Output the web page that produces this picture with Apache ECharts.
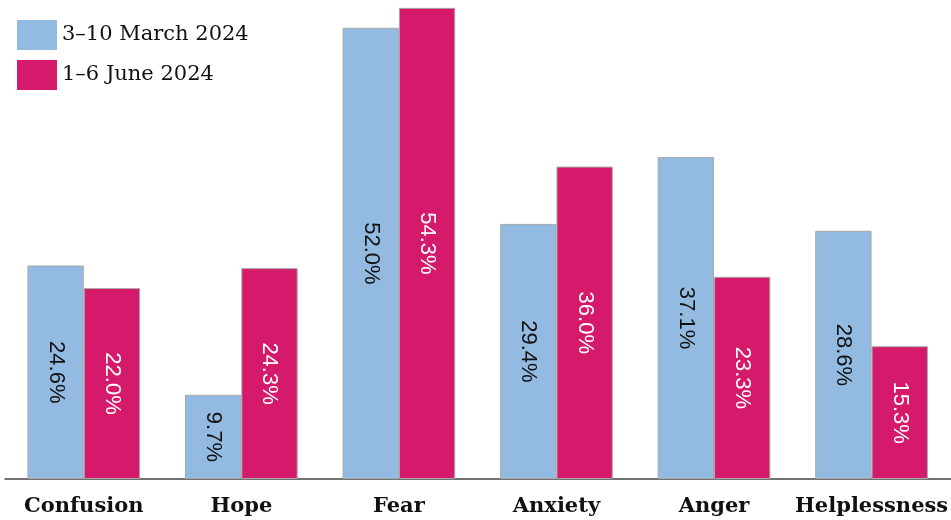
<!DOCTYPE html>
<html><head><meta charset="utf-8">
<script src="https://cdn.jsdelivr.net/npm/echarts@6/dist/echarts.min.js"></script>
<style>html,body{margin:0;padding:0;background:#fff}#c{width:951px;height:520px}</style>
</head><body><div id="c"></div>
<script>
const categories = ["Confusion", "Hope", "Fear", "Anxiety", "Anger", "Helplessness"];
const march = [24.6, 9.7, 52.0, 29.4, 37.1, 28.6];
const june = [22.0, 24.3, 54.3, 36.0, 23.3, 15.3];
const seriesNames = ["3–10 March 2024", "1–6 June 2024"];

const chart = echarts.init(document.getElementById('c'));
const labelCfg = (color) => ({
  show: true, position: 'inside', rotate: -90,
  formatter: p => p.value.toFixed(1) + '%',
  color: color, fontFamily: 'Liberation Sans, Arial, sans-serif', fontSize: 22
});
chart.setOption({
  animation: false,
  grid: { left: 5, right: -1, top: 0, bottom: 41, containLabel: false },
  legend: {
    orient: 'vertical', left: 17, top: 20, padding: 0, itemWidth: 40, itemHeight: 30, itemGap: 10,
    icon: 'rect', itemStyle: { borderWidth: 0 },
    textStyle: { fontFamily: 'DejaVu Serif, serif', fontSize: 21, color: '#111' },
    data: seriesNames
  },
  xAxis: {
    type: 'category', data: categories,
    axisLine: { show: true, lineStyle: { color: '#444', width: 1.5 } },
    axisTick: { show: false },
    axisLabel: { fontFamily: 'DejaVu Serif, serif', fontWeight: 'bold', fontSize: 21, color: '#111', margin: 17, interval: 0 }
  },
  yAxis: { type: 'value', min: 0, max: 55.2, show: false, splitLine: { show: false } },
  series: [
    { name: seriesNames[0], type: 'bar', data: march, barGap: '0%', barCategoryGap: '28.5%',
      itemStyle: { color: '#93bbe1', borderColor: '#a8a8a8', borderWidth: 1 },
      label: labelCfg('#111') },
    { name: seriesNames[1], type: 'bar', data: june,
      itemStyle: { color: '#d5196b', borderColor: '#a8a8a8', borderWidth: 1 },
      label: labelCfg('#fff') }
  ]
});
</script></body></html>
